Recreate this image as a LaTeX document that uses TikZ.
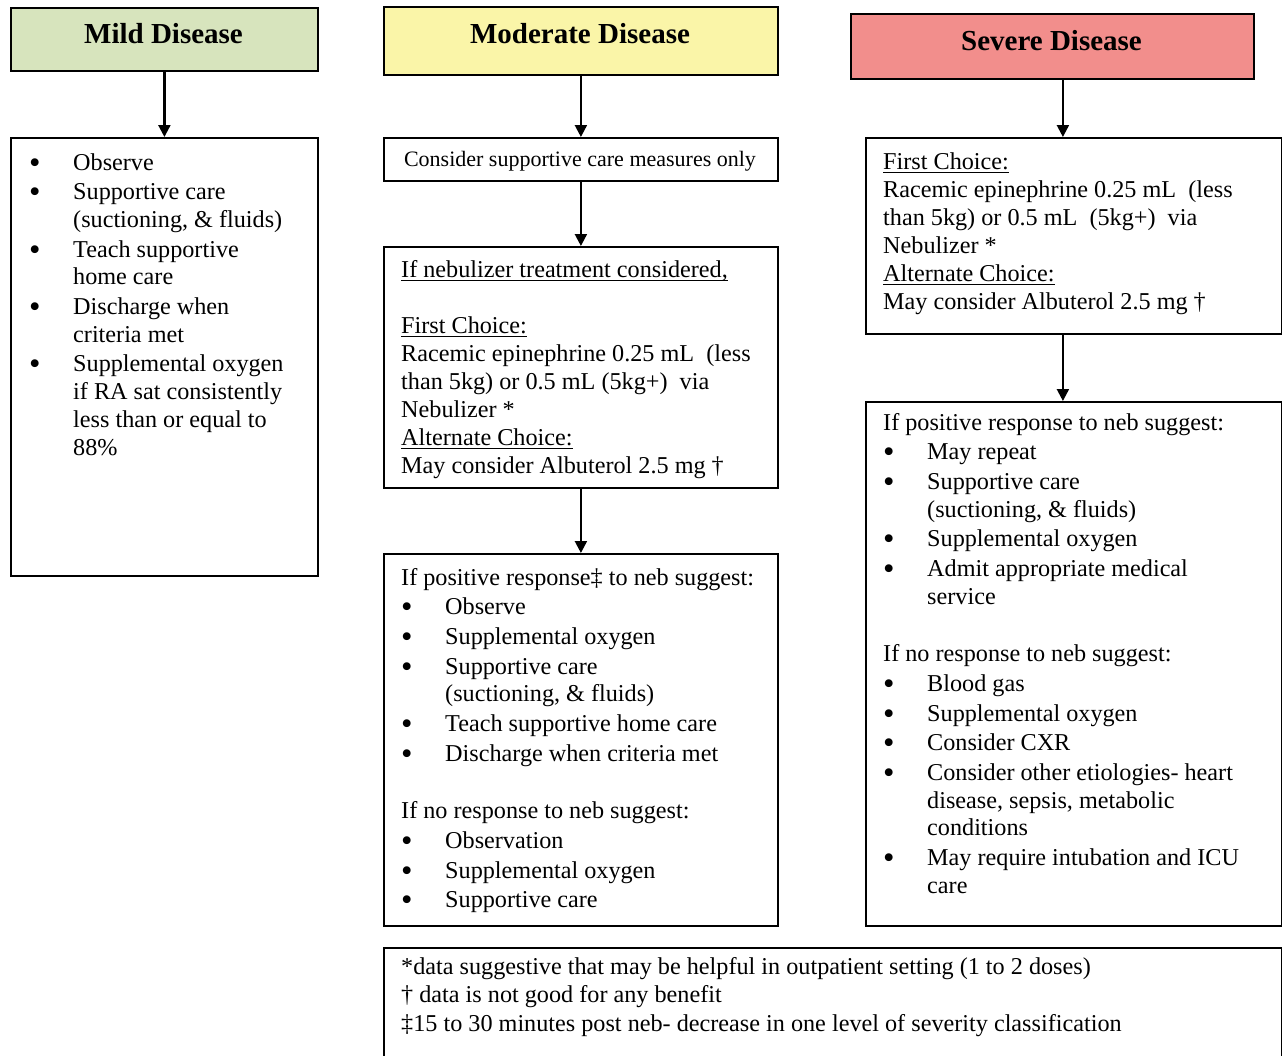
\documentclass[tikz,border=0pt]{standalone}
\usepackage{fontspec}
\setmainfont{Liberation Serif}
\usetikzlibrary{arrows.meta}
\definecolor{mildc}{RGB}{215,228,189}
\definecolor{modc}{RGB}{250,245,168}
\definecolor{sevc}{RGB}{242,142,140}
\newcommand\bigbul{\raisebox{-3pt}{\scalebox{1.35}{•}}}
\newcommand\bitm[1]{\par\hangindent=44pt\hangafter=1\noindent\makebox[44pt][l]{\bigbul}#1}
\newcommand\uln[1]{\leavevmode\setbox0=\hbox{#1}\rlap{\rule[-3.5pt]{\wd0}{1pt}}\box0}
\newcommand\tb[2]{\parbox[t]{#1}{\setlength{\parskip}{2pt}\raggedright #2}}
\tikzset{
  box/.style={draw, line width=1.8pt, anchor=north west, inner sep=0pt},
  hdr/.style={inner sep=0pt, anchor=base, font=\fontsize{29pt}{34pt}\selectfont\bfseries},
  txt/.style={inner sep=0pt, anchor=base west, font=\fontsize{24.2pt}{27.7pt}\selectfont},
  arr/.style={line width=2.2pt, -{Triangle[length=12pt,width=12pt]}}
}
\begin{document}
\begin{tikzpicture}[x=1pt,y=-1pt]
\useasboundingbox (0,0) rectangle (1282,1055);
% boxes
\node[box, fill=mildc, minimum width=307pt, minimum height=63pt] (mildH) at (10,7) {};
\node[box, fill=modc, minimum width=394pt, minimum height=68pt] (modH) at (383,6) {};
\node[box, fill=sevc, minimum width=403pt, minimum height=65pt] (sevH) at (850,13) {};
\node[box, minimum width=307pt, minimum height=438pt] (mildB) at (10,137) {};
\node[box, minimum width=394pt, minimum height=43pt] (consB) at (383,137) {};
\node[box, minimum width=394pt, minimum height=241pt] (nebB) at (383,246) {};
\node[box, minimum width=394pt, minimum height=372pt] (modR) at (383,553) {};
\node[box, minimum width=416pt, minimum height=196pt] (sevB) at (865,137) {};
\node[box, minimum width=416pt, minimum height=524pt] (sevR) at (865,401) {};
\node[box, minimum width=898pt, minimum height=130pt] (footB) at (383,947) {};
% headers
\node[hdr] (mildT) at (163.5,43.5) {Mild Disease};
\node[hdr] (modT) at (580,43.5) {Moderate Disease};
\node[hdr] (sevT) at (1051.5,50) {Severe Disease};
% arrows
\draw[arr] (mildH.south) -- (mildB.north);
\draw[arr] (modH.south) -- (consB.north);
\draw[arr] (consB.south) -- (nebB.north);
\draw[arr] (nebB.south) -- (modR.north);
\draw[arr] ([xshift=10.5pt]sevH.south) -- ([xshift=-11pt]sevB.north);
\draw[arr] ([xshift=-11pt]sevB.south) -- ([xshift=-11pt]sevR.north);
% texts
\node[txt] (mildX) at (29,170) {\tb{290pt}{%
\bitm{Observe}
\bitm{Supportive care\newline (suctioning, \& fluids)}
\bitm{Teach supportive\newline home care}
\bitm{Discharge when\newline criteria met}
\bitm{Supplemental oxygen\newline if RA sat consistently\newline less than or equal to\newline 88\%}}};
\node[inner sep=0pt, anchor=base, font=\fontsize{22pt}{26pt}\selectfont] (consX) at (580,166) {Consider supportive care measures only};
\node[txt] (nebX) at (401,277) {\tb{372pt}{\setlength{\baselineskip}{28pt}%
\uln{If nebulizer treatment considered,}\\
\mbox{}\\
\uln{First Choice:}\\
Racemic epinephrine 0.25 mL\ \ (less\\
than 5kg) or 0.5 mL (5kg+)\ \ via\\
Nebulizer *\\
\uln{Alternate Choice:}\\
May consider Albuterol 2.5 mg †}};
\node[txt] (modX) at (401,585) {\tb{372pt}{%
If positive response‡ to neb suggest:
\bitm{Observe}
\bitm{Supplemental oxygen}
\bitm{Supportive care\newline (suctioning, \& fluids)}
\bitm{Teach supportive home care}
\bitm{Discharge when criteria met}
\par\vspace{27.7pt}
\noindent If no response to neb suggest:
\bitm{Observation}
\bitm{Supplemental oxygen}
\bitm{Supportive care}}};
\node[txt] (sevX) at (883,169) {\tb{395pt}{\setlength{\baselineskip}{28pt}%
\uln{First Choice:}\\
Racemic epinephrine 0.25 mL\ \ (less\\
than 5kg) or 0.5 mL\ \ (5kg+)\ \ via\\
Nebulizer *\\
\uln{Alternate Choice:}\\
May consider Albuterol 2.5 mg †}};
\node[txt] (sevRX) at (883,430) {\tb{395pt}{%
If positive response to neb suggest:
\bitm{May repeat}
\bitm{Supportive care\newline (suctioning, \& fluids)}
\bitm{Supplemental oxygen}
\bitm{Admit appropriate medical\newline service}
\par\vspace{27.7pt}
\noindent If no response to neb suggest:
\bitm{Blood gas}
\bitm{Supplemental oxygen}
\bitm{Consider CXR}
\bitm{Consider other etiologies- heart\newline disease, sepsis, metabolic\newline conditions}
\bitm{May require intubation and ICU\newline care}}};
\node[txt] (footX) at (401,974) {\tb{870pt}{\setlength{\baselineskip}{28.5pt}%
*data suggestive that may be helpful in outpatient setting (1 to 2 doses)\\
† data is not good for any benefit\\
‡15 to 30 minutes post neb- decrease in one level of severity classification}};
\end{tikzpicture}
\end{document}
